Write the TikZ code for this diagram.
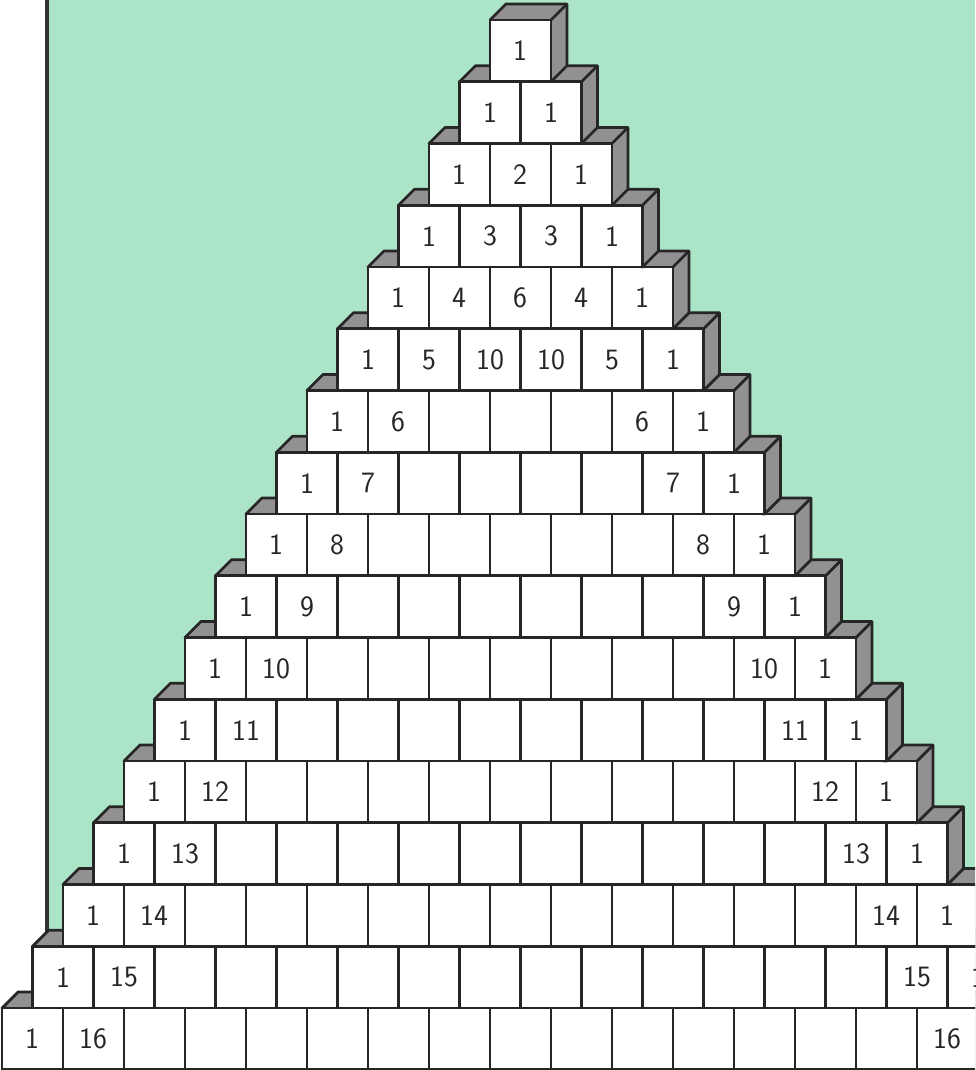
\documentclass[tikz,border=0pt]{standalone}
\usepackage{fontspec}
\definecolor{mint}{RGB}{172,228,200}
\definecolor{stone}{RGB}{146,144,144}
\tikzset{
  face/.style={fill=white,draw=black!85,line width=2pt,line join=round},
  side/.style={fill=stone,draw=black!85,line width=2pt,line join=round},
  num/.style={font=\sffamily\fontsize{21}{21}\selectfont,text=black!85}
}

\begin{document}
\begin{tikzpicture}[x=0.025cm,y=-0.025cm]
\useasboundingbox(0,0)rectangle(975,1070);
\begin{scope}
\clip(0,0)rectangle(975,1070);
\fill[mint](47,0)rectangle(975,1070);
\draw[line width=3.4pt,black!80](47,0)--(47,1070);
% rows from the bottom up, so every row sits on the one below
\foreach \r in {16,...,0}{
  \pgfmathsetmacro\L{490-30.5*\r}
  \pgfmathsetmacro\T{20+61.75*\r}
  \pgfmathsetmacro\R{\L+61*(\r+1)}
  \pgfmathsetmacro\B{\T+61.75}
  \draw[side](\L,\T)--(\L+16,\T-16)--(\R+16,\T-16)--(\R+16,\B-16)--(\R,\B)--cycle;
  \draw[side](\R,\T)--(\R+16,\T-16);
  \foreach \k in {0,...,\r}
    \draw[face](\L+61*\k,\T)rectangle++(61,61.75);
}
% the numbers (the last 1 of the bottom row lies past the edge)
\foreach \r in {0,...,16}{
  \foreach \k in {0,...,\r}{
    \pgfmathtruncatemacro\v{(\k==0 || \k==\r) ? 1 : ((\k==1 || \k==\r-1) ? \r : (\r==4 ? 6 : (\r==5 ? 10 : 0)))}
    \pgfmathtruncatemacro\x{520.5-30.5*\r+61*\k}
    \ifnum\x<990
    \ifnum\v>0
      \node[num](n-\r-\k)at(\x,51+61.75*\r){\v};
    \fi
    \fi
  }
}
\end{scope}
\end{tikzpicture}
\end{document}
